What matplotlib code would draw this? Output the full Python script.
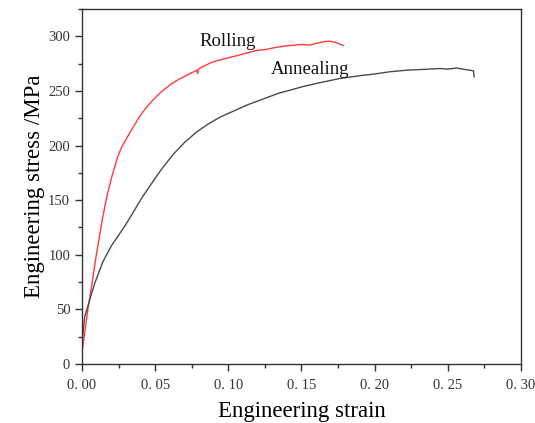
import matplotlib
matplotlib.use("Agg")
import matplotlib.pyplot as plt
from matplotlib.ticker import MultipleLocator

plt.rcParams['font.family'] = ['Liberation Serif', 'DejaVu Serif']

# Rolling curve (strain, stress in MPa)
rolling_strain = [0.0, 0.0018, 0.0041, 0.0064, 0.0080, 0.0098, 0.0137, 0.0160,
                  0.0178, 0.0205, 0.0223, 0.0245, 0.0269, 0.0296, 0.0328, 0.0396,
                  0.0440, 0.0487, 0.0540, 0.0601, 0.0660, 0.0716, 0.0785, 0.0790,
                  0.0795, 0.0807, 0.0884, 0.0932, 0.105, 0.112, 0.119, 0.126,
                  0.133, 0.142, 0.150, 0.156, 0.160, 0.165, 0.1695, 0.173,
                  0.1786]
rolling_stress = [11, 28, 51, 70, 84, 100, 131, 147,
                  158, 172, 180.5, 190, 198, 204.5, 212, 227,
                  235, 242, 249, 255.5, 260.5, 264.4, 269, 266,
                  269.6, 271, 276, 278, 282, 284.5, 287, 288,
                  290, 291.6, 292.5, 292, 293.5, 295, 295.5, 294.5,
                  291.6]

# Annealing curve
anneal_strain = [0.0, 0.0018, 0.0052, 0.0087, 0.0144, 0.0200, 0.0296, 0.0337,
                 0.0408, 0.0510, 0.0547, 0.0624, 0.0702, 0.0784, 0.0860, 0.0943,
                 0.1126, 0.134, 0.151, 0.160, 0.1763, 0.19, 0.199, 0.210,
                 0.222, 0.230, 0.2447, 0.250, 0.256, 0.260, 0.265, 0.2675,
                 0.268]
anneal_stress = [19, 43, 58.5, 74, 94, 108, 127, 136,
                 152, 172, 179, 192, 203, 212.5, 219.5, 226,
                 237, 247.7, 254, 256.8, 261.4, 264, 265.3, 267.5,
                 269, 269.5, 270.5, 270, 271, 270, 269, 268.4,
                 263]

xticks = [0.0, 0.05, 0.10, 0.15, 0.20, 0.25, 0.30]
xtick_labels = ["0. 00", "0. 05", "0. 10", "0. 15", "0. 20", "0. 25", "0. 30"]
yticks = [0, 50, 100, 150, 200, 250, 300]

fig = plt.figure(figsize=(5.35, 4.23), dpi=100)
ax = fig.add_axes([0.1533, 0.1395, 0.8205, 0.8392])

ax.plot(rolling_strain, rolling_stress, color='#ff3b3b', lw=1.0)
ax.plot(anneal_strain, anneal_stress, color='#4a4a4a', lw=1.0)

ax.text(0.0998, 295.5, "Rolling", fontsize=13.5, ha='center', va='center', color='#111111')
ax.text(0.156, 270, "Annealing", fontsize=13.5, ha='center', va='center', color='#111111')

ax.set_xlim(0, 0.30)
ax.set_ylim(0, 325)
ax.set_xticks(xticks)
ax.set_xticklabels(xtick_labels)
ax.set_yticks(yticks)
ax.xaxis.set_minor_locator(MultipleLocator(0.025))
ax.yaxis.set_minor_locator(MultipleLocator(25))
ax.tick_params(which='both', direction='out', colors='#333333', labelsize=10.5,
               width=1.0)
ax.tick_params(axis='x', pad=6)
ax.tick_params(which='major', length=5)
ax.tick_params(which='minor', length=3)
for s in ax.spines.values():
    s.set_color('#333333')
    s.set_linewidth(1.0)

ax.set_xlabel("Engineering strain", fontsize=16.5, labelpad=6)
ax.set_ylabel("Engineering stress /MPa", fontsize=16.5, labelpad=2)

fig.savefig("out.png", dpi=100)
